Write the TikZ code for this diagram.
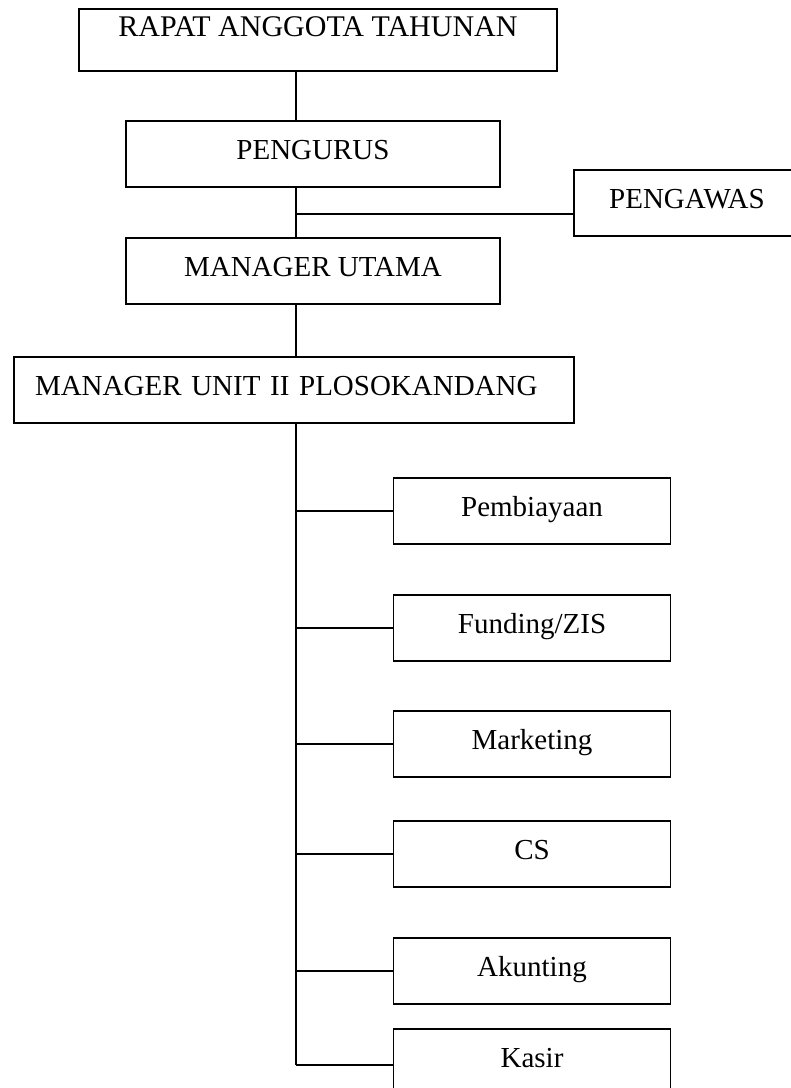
\documentclass[tikz,border=0pt]{standalone}
\usepackage{fontspec}
\setmainfont{Liberation Serif}
\begin{document}
\begin{tikzpicture}[x=1pt,y=-1pt,
  box/.style={draw,line width=1.7pt,rectangle,inner sep=0pt,
    font=\fontsize{29}{33}\selectfont,text height=20pt,text depth=10pt},
  subbox/.style={box,minimum width=277pt,minimum height=66pt},
  link/.style={line width=1.6pt}]
\useasboundingbox (0,0) rectangle (791,1088);
\node[box,minimum width=478pt,minimum height=62pt,text height=10pt,text depth=17pt,font=\fontsize{30}{34}\selectfont] (rat) at (318,40) {RAPAT ANGGOTA TAHUNAN};
\node[box,minimum width=374pt,minimum height=66pt] (peng) at (313,154) {PENGURUS};
\node[box,minimum width=226pt,minimum height=66pt] (pgw) at (687,203) {PENGAWAS};
\node[box,minimum width=374pt,minimum height=66pt] (mu) at (313,271) {MANAGER UTAMA};
\node[box,minimum width=560pt,minimum height=66pt,text width=518pt,align=left,inner xsep=21pt] (mup) at (294,390) {MANAGER UNIT II PLOSOKANDANG};
\node[subbox] (pemb) at (532,511) {Pembiayaan};
\node[subbox] (fund) at (532,628) {Funding/ZIS};
\node[subbox] (mark) at (532,744) {Marketing};
\node[subbox] (cs) at (532,854) {CS};
\node[subbox] (akun) at (532,971) {Akunting};
\node[subbox] (kas) at (532,1062) {Kasir};
\coordinate (t) at (296,0);
\coordinate (b1) at (296,214);
\coordinate (tend) at (296,1065);
\draw[link] (rat.south -| t) -- (peng.north -| t);
\draw[link] (peng.south -| t) -- (mu.north -| t);
\draw[link] (b1) -- (b1 -| pgw.west);
\draw[link] (mu.south -| t) -- (mup.north -| t);
\draw[link] (mup.south -| t) -- (tend);
\draw[link] (pemb.west -| t) -- (pemb.west);
\draw[link] (fund.west -| t) -- (fund.west);
\draw[link] (mark.west -| t) -- (mark.west);
\draw[link] (cs.west -| t) -- (cs.west);
\draw[link] (akun.west -| t) -- (akun.west);
\draw[link] (tend) -- (tend -| kas.west);
\end{tikzpicture}
\end{document}
